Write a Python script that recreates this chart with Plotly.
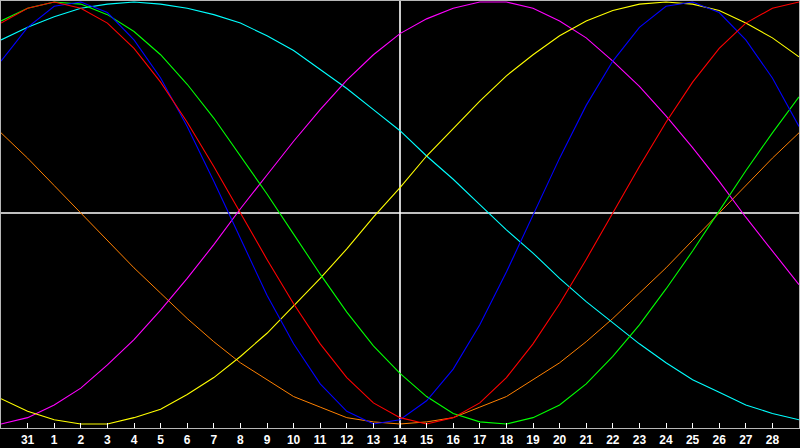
import plotly.graph_objects as go

# Day index 0..30 (day 30 of previous month through day 29)
day_numbers = [30, 31, 1, 2, 3, 4, 5, 6, 7, 8, 9, 10, 11, 12, 13, 14,
               15, 16, 17, 18, 19, 20, 21, 22, 23, 24, 25, 26, 27, 28, 29]
tick_positions = list(range(1, 30))
tick_labels = [str(d) for d in day_numbers[1:30]]
today_index = 15

physical = [0.72, 0.88, 0.98, 1.00, 0.95, 0.82, 0.64, 0.41, 0.15, -0.12, -0.39,
            -0.62, -0.81, -0.94, -1.00, -0.98, -0.89, -0.74, -0.53, -0.28, -0.01,
            0.26, 0.51, 0.72, 0.88, 0.98, 1.00, 0.95, 0.82, 0.64, 0.41]
emotional = [0.90, 0.97, 1.00, 0.97, 0.90, 0.78, 0.62, 0.43, 0.22, 0.00, -0.22,
             -0.43, -0.62, -0.78, -0.90, -0.97, -1.00, -0.97, -0.90, -0.78, -0.62,
             -0.43, -0.22, 0.00, 0.22, 0.43, 0.62, 0.78, 0.90, 0.97, 1.00]
intellectual = [0.91, 0.97, 1.00, 0.99, 0.94, 0.86, 0.75, 0.61, 0.45, 0.27, 0.09,
                -0.10, -0.29, -0.47, -0.63, -0.76, -0.87, -0.95, -0.99, -1.00, -0.97,
                -0.91, -0.81, -0.68, -0.53, -0.36, -0.18, 0.01, 0.20, 0.38, 0.55]
spiritual = [0.82, 0.88, 0.93, 0.97, 0.99, 1.00, 0.99, 0.97, 0.94, 0.90, 0.84,
             0.77, 0.68, 0.59, 0.49, 0.39, 0.27, 0.16, 0.04, -0.08, -0.19,
             -0.31, -0.42, -0.52, -0.62, -0.71, -0.79, -0.85, -0.91, -0.95, -0.98]
intuitive = [-1.00, -0.97, -0.91, -0.83, -0.72, -0.60, -0.46, -0.31, -0.15, 0.02, 0.18,
             0.34, 0.49, 0.63, 0.75, 0.85, 0.92, 0.97, 1.00, 1.00, 0.97,
             0.91, 0.83, 0.72, 0.60, 0.46, 0.31, 0.15, -0.02, -0.18, -0.34]
aesthetic = [-0.88, -0.94, -0.98, -1.00, -1.00, -0.97, -0.93, -0.86, -0.78, -0.68, -0.57,
             -0.44, -0.31, -0.17, -0.02, 0.12, 0.27, 0.40, 0.53, 0.65, 0.75,
             0.84, 0.91, 0.96, 0.99, 1.00, 0.99, 0.96, 0.90, 0.83, 0.74]
awareness = [0.38, 0.26, 0.13, 0.00, -0.13, -0.26, -0.38, -0.50, -0.61, -0.71, -0.79,
             -0.87, -0.92, -0.97, -0.99, -1.00, -0.99, -0.97, -0.92, -0.87, -0.79,
             -0.71, -0.61, -0.50, -0.38, -0.26, -0.13, 0.00, 0.13, 0.26, 0.38]

series = [
    ("Awareness", awareness, "#FF8000", 1.0),
    ("Spiritual", spiritual, "#00FFFF", 1.1),
    ("Intuitive", intuitive, "#FF00FF", 1.1),
    ("Aesthetic", aesthetic, "#FFFF00", 1.1),
    ("Intellectual", intellectual, "#00FF00", 1.1),
    ("Physical", physical, "#0000FF", 1.1),
    ("Emotional", emotional, "#FF0000", 1.1),
]

x_index = list(range(len(day_numbers)))

fig = go.Figure()
for name, vals, color, w in series:
    fig.add_trace(go.Scatter(x=x_index, y=vals, mode="lines", name=name,
                             line=dict(color=color, width=w), hoverinfo="skip"))

fig.add_shape(type="line", xref="x", yref="paper", x0=today_index, x1=today_index,
              y0=0, y1=1, line=dict(color="#FFFFFF", width=1.6), layer="below")
fig.add_shape(type="line", xref="paper", yref="y", x0=0, x1=1, y0=0, y1=0,
              line=dict(color="#FFFFFF", width=1.6), layer="below")

fig.update_layout(
    width=800, height=448,
    margin=dict(l=1, r=1, t=1, b=20, pad=0),
    paper_bgcolor="#000000", plot_bgcolor="#000000",
    showlegend=False,
    xaxis=dict(range=[0, 30], tickmode="array", tickvals=tick_positions,
               ticktext=tick_labels, ticks="inside", ticklen=5, tickwidth=1.2,
               tickcolor="#FFFFFF", showgrid=False, zeroline=False,
               showline=True, mirror=True, linecolor="#B8B8B8", linewidth=1.2,
               tickfont=dict(family="Liberation Sans, Arial", size=12,
                             color="#FFFFFF", weight="bold"),
               automargin=False, fixedrange=True),
    yaxis=dict(range=[-1.019, 1.0047], showticklabels=False, ticks="",
               showgrid=False, zeroline=False, showline=True, mirror=True,
               linecolor="#B8B8B8", linewidth=1.2, automargin=False, fixedrange=True),
)

fig.write_html("out.html", config={"displayModeBar": False},
               post_script="document.body.style.margin='0';"
                           "document.body.style.background='#000';")
